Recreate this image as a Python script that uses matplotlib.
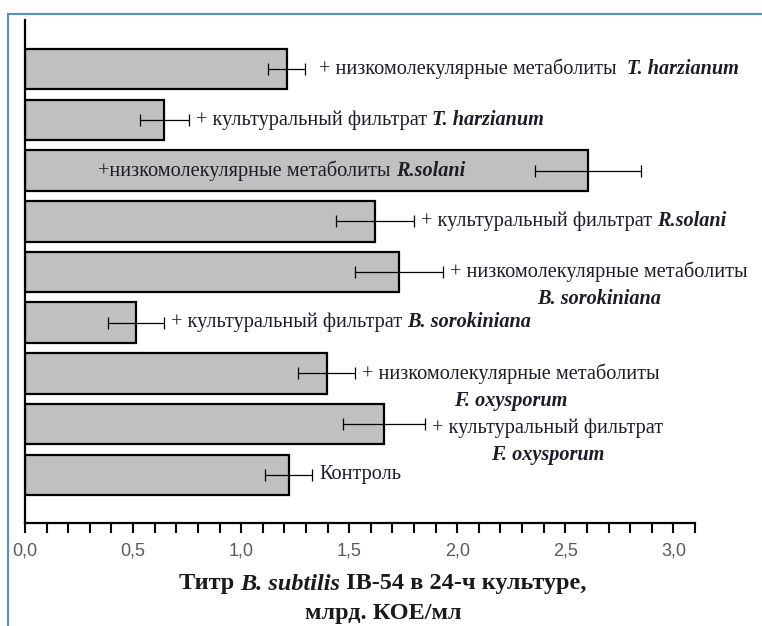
import matplotlib
matplotlib.use('Agg')
import matplotlib.pyplot as plt
from matplotlib.ticker import MultipleLocator, FuncFormatter
from matplotlib.lines import Line2D
from matplotlib.offsetbox import TextArea, HPacker, AnnotationBbox

# данные (сверху вниз)
prefixes = ['+ низкомолекулярные метаболиты  ',
            '+ культуральный фильтрат ',
            '+низкомолекулярные метаболиты ',
            '+ культуральный фильтрат ',
            '+ низкомолекулярные метаболиты',
            '+ культуральный фильтрат ',
            '+ низкомолекулярные метаболиты',
            '+ культуральный фильтрат',
            'Контроль']
species = ['T. harzianum', 'T. harzianum', 'R.solani', 'R.solani',
           'B. sorokiniana', 'B. sorokiniana', 'F. oxysporum', 'F. oxysporum', '']
two_lines = [False, False, False, False, True, False, True, True, False]
titer = [1.21, 0.645, 2.605, 1.62, 1.73, 0.515, 1.395, 1.66, 1.22]
err = [0.085, 0.115, 0.245, 0.18, 0.205, 0.13, 0.13, 0.19, 0.11]

serif = 'Liberation Serif'
txt_color = '#1c1c28'
fs = 14.6

fig = plt.figure(figsize=(7.62, 6.26), dpi=100)
ax = fig.add_axes([25/762, 1 - 523/626, 670/762, 503/626])

n = len(titer)
ypos = [n - 1 - i for i in range(n)]

ax.barh(ypos, titer, height=0.8, color='#c0c0c0', edgecolor='black', linewidth=1.6, zorder=2)
ax.errorbar(titer, ypos, xerr=err, fmt='none', ecolor='black', elinewidth=0.9,
            capsize=4, capthick=0.9, zorder=3)

for i in range(n):
    y = ypos[i]
    if i == 2:
        # подпись внутри столбца
        x0, off = 0.34, 0
    else:
        x0, off = titer[i] + err[i], (10 if i == 0 else 5)
    dy = -3 if i == 7 else 0
    t1 = ax.annotate(prefixes[i], xy=(x0, y), xytext=(off, dy), textcoords='offset points',
                     va='center', ha='left', fontsize=fs, family=serif, color=txt_color,
                     annotation_clip=False, zorder=4)
    if not species[i]:
        continue
    if two_lines[i]:
        ax.annotate(species[i], xy=(0.5, 0), xycoords=t1, xytext=(0, -5), textcoords='offset points',
                    va='top', ha='center', fontsize=fs, family=serif, style='italic',
                    weight='bold', color=txt_color, annotation_clip=False, zorder=4)
    else:
        ax.annotate(species[i], xy=(1, 0), xycoords=t1, va='bottom', ha='left',
                    fontsize=fs, family=serif, style='italic', weight='bold',
                    color=txt_color, annotation_clip=False, zorder=4)

ax.set_xlim(0, 3.1)
ax.set_ylim(-0.95, n - 1 + 0.97)
ax.xaxis.set_major_locator(MultipleLocator(0.5))
ax.xaxis.set_minor_locator(MultipleLocator(0.1))
ax.xaxis.set_major_formatter(FuncFormatter(lambda v, p: f'{v:.1f}'.replace('.', ',')))
ax.tick_params(axis='x', which='both', direction='out', length=7, width=1.5, color='black')
ax.tick_params(axis='x', which='major', labelsize=13, labelcolor='#5a5a5a', pad=7)
for lab in ax.get_xticklabels():
    lab.set_family('Liberation Sans')
ax.set_yticks([])
for s in ['top', 'right']:
    ax.spines[s].set_visible(False)
for s in ['left', 'bottom']:
    ax.spines[s].set_linewidth(1.6)

# подпись оси x (две строки, часть курсивом)
lab_props = dict(fontsize=17.5, family=serif, weight='bold', color='#1a1a1a')
row1 = HPacker(children=[TextArea('Титр ', textprops=lab_props),
                         TextArea('B. subtilis', textprops=dict(lab_props, style='italic')),
                         TextArea(' IB-54 в 24-ч культуре,', textprops=lab_props)],
               align='baseline', pad=0, sep=0)
fig.add_artist(AnnotationBbox(row1, (383/762, 1 - 584/626), xycoords='figure fraction',
                              frameon=False, box_alignment=(0.5, 0.5), pad=0))
fig.text(383/762, 1 - 614/626, 'млрд. КОЕ/мл', ha='center', va='center', **lab_props)

# рамка
fig.add_artist(Line2D([8/762, 1.01], [1 - 14/626, 1 - 14/626], transform=fig.transFigure,
                      color='#5b8ccc', linewidth=1.5))
fig.add_artist(Line2D([8/762, 8/762], [1 - 14/626, -0.01], transform=fig.transFigure,
                      color='#5b8ccc', linewidth=1.5))

fig.savefig('out.png', dpi=100)
